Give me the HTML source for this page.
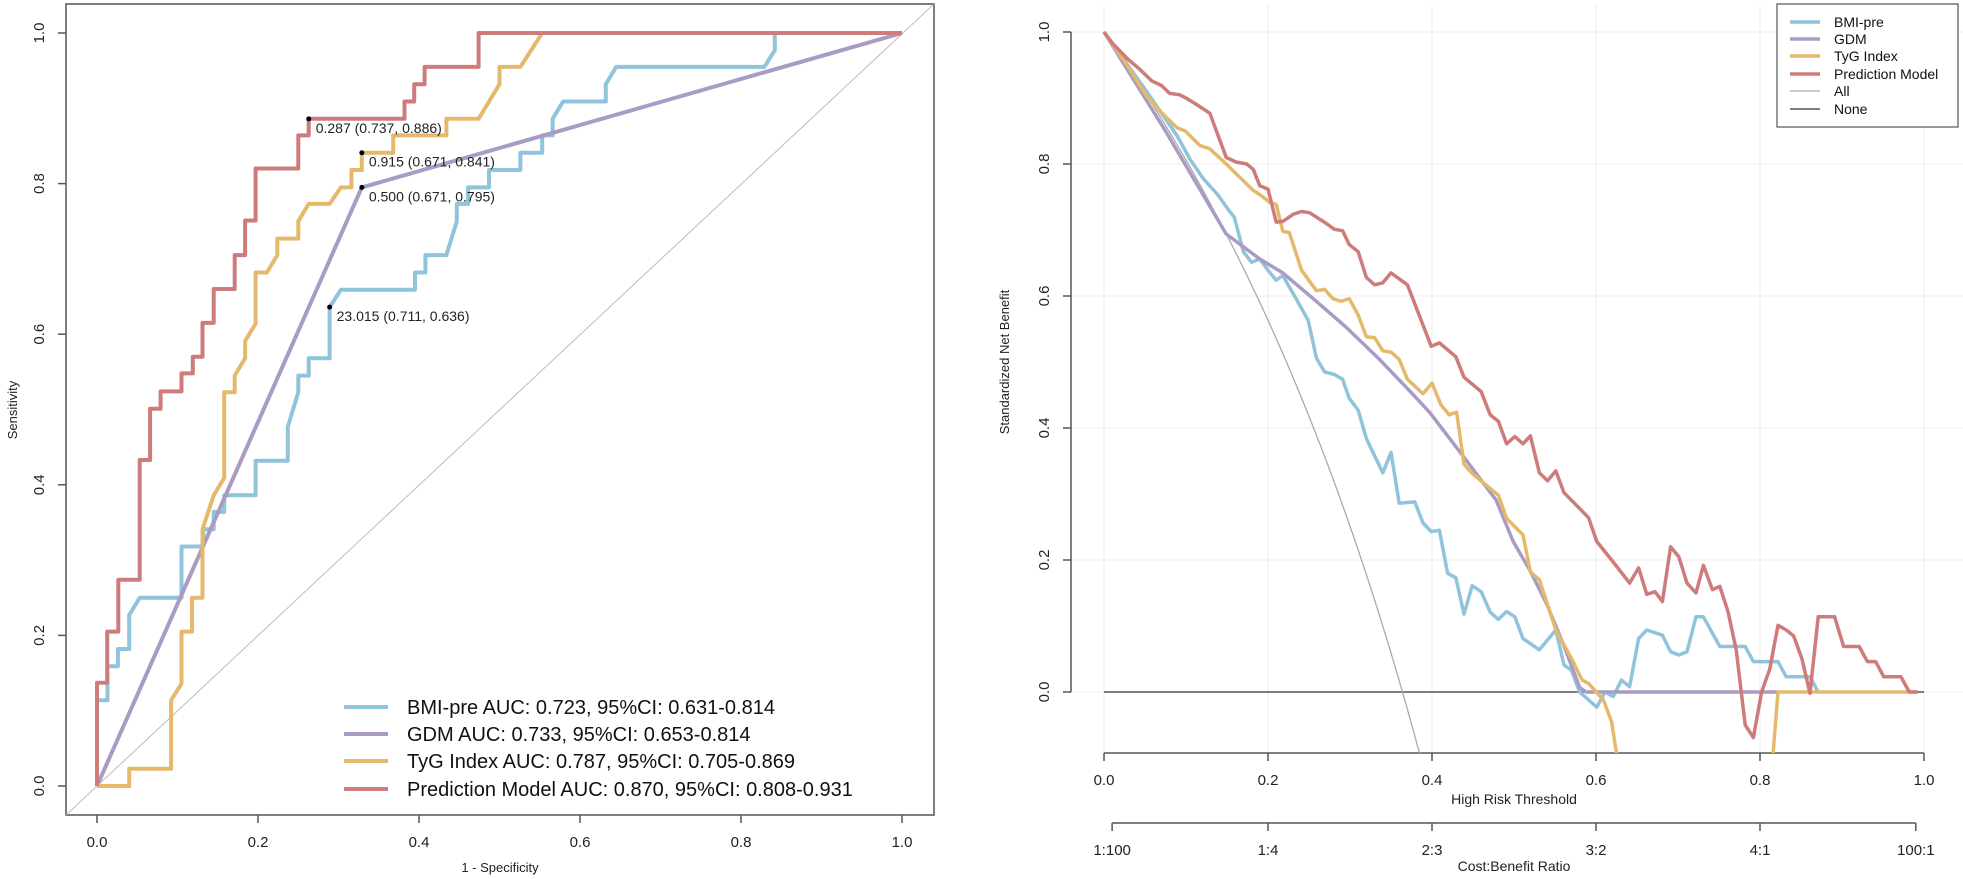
<!DOCTYPE html>
<html><head><meta charset="utf-8"><style>
html,body{margin:0;padding:0;background:#fff;width:1963px;height:879px;overflow:hidden;}
svg{display:block;font-family:"Liberation Sans",Arial,sans-serif;}
</style></head><body>
<svg id="chart" width="1963" height="879" viewBox="0 0 1963 879" xmlns="http://www.w3.org/2000/svg">
<defs>
<clipPath id="roc-clip"><rect x="66" y="4" width="868" height="811"/></clipPath>
<clipPath id="dca-clip"><rect x="1071" y="0" width="892" height="753"/></clipPath>
</defs>
<g id="roc"></g>
<g id="dca"></g>
</svg>
<script>
// ---------- ROC data ----------
const rocNames = ["BMI-pre","GDM","TyG Index","Prediction Model"];
const rocColors = ["#8fc4dc","#a99bc3","#e5b96c","#cd7b7b"];
const rocLegend = ["BMI-pre AUC: 0.723, 95%CI: 0.631-0.814","GDM AUC: 0.733, 95%CI: 0.653-0.814","TyG Index AUC: 0.787, 95%CI: 0.705-0.869","Prediction Model AUC: 0.870, 95%CI: 0.808-0.931"];
const bmiFpr = [0,0,0.013,0.013,0.026,0.026,0.04,0.04,0.053,0.105,0.105,0.132,0.132,0.145,0.145,0.158,0.158,0.197,0.197,0.237,0.237,0.25,0.25,0.263,0.263,0.289,0.289,0.303,0.395,0.395,0.408,0.408,0.434,0.447,0.447,0.461,0.461,0.487,0.487,0.526,0.526,0.553,0.553,0.566,0.566,0.579,0.632,0.632,0.645,0.829,0.842,0.842,1];
const bmiTpr = [0,0.114,0.114,0.159,0.159,0.182,0.182,0.227,0.25,0.25,0.318,0.318,0.341,0.341,0.364,0.364,0.386,0.386,0.432,0.432,0.477,0.523,0.545,0.545,0.568,0.568,0.636,0.659,0.659,0.682,0.682,0.705,0.705,0.75,0.773,0.773,0.795,0.795,0.818,0.818,0.841,0.841,0.864,0.864,0.886,0.909,0.909,0.932,0.955,0.955,0.977,1,1];
const gdmFpr = [0,0.329,1];
const gdmTpr = [0,0.795,1];
const tygFpr = [0,0.04,0.04,0.092,0.092,0.105,0.105,0.118,0.118,0.131,0.131,0.145,0.158,0.158,0.171,0.171,0.184,0.184,0.197,0.197,0.211,0.224,0.224,0.25,0.25,0.263,0.289,0.303,0.316,0.316,0.329,0.329,0.368,0.368,0.434,0.434,0.474,0.5,0.5,0.526,0.553,1];
const tygTpr = [0,0,0.023,0.023,0.114,0.136,0.205,0.205,0.25,0.25,0.341,0.386,0.409,0.523,0.523,0.545,0.568,0.591,0.614,0.682,0.682,0.705,0.727,0.727,0.75,0.773,0.773,0.795,0.795,0.818,0.818,0.841,0.841,0.864,0.864,0.886,0.886,0.932,0.955,0.955,1,1];
const predFpr = [0,0,0.0127,0.0127,0.0265,0.0265,0.053,0.053,0.066,0.066,0.079,0.079,0.105,0.105,0.119,0.119,0.131,0.131,0.145,0.145,0.171,0.171,0.184,0.184,0.197,0.197,0.25,0.25,0.263,0.263,0.382,0.382,0.394,0.394,0.407,0.407,0.474,0.474,1];
const predTpr = [0,0.137,0.137,0.205,0.205,0.274,0.274,0.433,0.433,0.501,0.501,0.524,0.524,0.548,0.548,0.570,0.570,0.615,0.615,0.66,0.66,0.705,0.705,0.751,0.751,0.82,0.82,0.864,0.864,0.886,0.886,0.909,0.909,0.932,0.932,0.955,0.955,1,1];
const cutFpr = [0.289,0.329,0.329,0.263];
const cutTpr = [0.636,0.795,0.841,0.886];
const cutLabels = ["23.015 (0.711, 0.636)","0.500 (0.671, 0.795)","0.915 (0.671, 0.841)","0.287 (0.737, 0.886)"];
const rocTicks = [0,0.2,0.4,0.6,0.8,1.0];
const rocTickLabels = ["0.0","0.2","0.4","0.6","0.8","1.0"];

// ---------- DCA data ----------
const dcaColors = ["#8fc4dc","#a99bc3","#e5b96c","#cd7b7b"];
const dcaLegendNames = ["BMI-pre","GDM","TyG Index","Prediction Model","All","None"];
const bmiT = [0,0.052,0.089,0.105,0.121,0.139,0.151,0.159,0.17,0.18,0.19,0.2,0.21,0.218,0.231,0.249,0.259,0.269,0.281,0.291,0.299,0.31,0.32,0.34,0.35,0.36,0.379,0.389,0.399,0.409,0.419,0.429,0.439,0.449,0.46,0.471,0.481,0.491,0.501,0.511,0.531,0.551,0.561,0.57,0.58,0.601,0.611,0.621,0.631,0.641,0.652,0.662,0.681,0.691,0.701,0.711,0.722,0.731,0.751,0.782,0.792,0.822,0.832,0.861,0.871];
const bmiNB = [1,0.91,0.843,0.807,0.778,0.753,0.732,0.719,0.667,0.651,0.656,0.639,0.624,0.631,0.603,0.563,0.506,0.485,0.481,0.474,0.445,0.427,0.384,0.332,0.363,0.286,0.288,0.256,0.243,0.245,0.18,0.173,0.118,0.161,0.152,0.121,0.11,0.122,0.114,0.081,0.064,0.094,0.041,0.033,0,-0.023,0,-0.007,0.018,0.008,0.081,0.094,0.086,0.061,0.056,0.061,0.114,0.114,0.069,0.069,0.046,0.046,0.023,0.023,0];
const gdmT = [0,0.075,0.149,0.19,0.218,0.255,0.295,0.336,0.376,0.397,0.437,0.478,0.499,0.52,0.54,0.56,0.58,0.588,0.822];
const gdmNB = [1,0.85,0.694,0.656,0.635,0.596,0.553,0.504,0.452,0.424,0.359,0.291,0.228,0.183,0.133,0.073,0.007,0,0];
const tygT = [0,0.028,0.052,0.07,0.089,0.099,0.117,0.129,0.149,0.182,0.192,0.202,0.21,0.218,0.226,0.241,0.259,0.269,0.279,0.289,0.299,0.31,0.32,0.33,0.34,0.35,0.36,0.37,0.389,0.4,0.411,0.421,0.43,0.439,0.449,0.481,0.491,0.511,0.52,0.531,0.551,0.57,0.583,0.591,0.609,0.619,0.625,0.64,0.80,0.816,0.822,0.992];
const tygNB = [1,0.95,0.903,0.878,0.855,0.85,0.828,0.823,0.8,0.76,0.752,0.742,0.739,0.698,0.696,0.639,0.608,0.61,0.596,0.592,0.596,0.571,0.538,0.537,0.517,0.515,0.504,0.474,0.452,0.468,0.435,0.42,0.424,0.345,0.331,0.298,0.263,0.238,0.182,0.17,0.094,0.051,0.018,0.013,-0.012,-0.045,-0.093,-0.15,-0.15,-0.093,0,0];
const predT = [0,0.011,0.028,0.044,0.058,0.07,0.08,0.092,0.1,0.113,0.129,0.149,0.161,0.174,0.182,0.19,0.2,0.21,0.218,0.231,0.241,0.251,0.271,0.281,0.291,0.299,0.31,0.32,0.33,0.34,0.35,0.37,0.399,0.409,0.429,0.439,0.46,0.471,0.481,0.491,0.501,0.511,0.52,0.531,0.541,0.551,0.561,0.58,0.591,0.601,0.621,0.641,0.652,0.662,0.672,0.681,0.691,0.701,0.711,0.722,0.731,0.742,0.751,0.761,0.771,0.782,0.792,0.802,0.812,0.822,0.832,0.841,0.851,0.861,0.871,0.891,0.902,0.921,0.931,0.941,0.951,0.972,0.982,0.992];
const predNB = [1,0.982,0.96,0.943,0.926,0.919,0.907,0.905,0.9,0.89,0.877,0.81,0.803,0.8,0.792,0.767,0.762,0.712,0.713,0.724,0.728,0.726,0.71,0.701,0.699,0.678,0.667,0.628,0.617,0.62,0.635,0.617,0.524,0.529,0.508,0.477,0.455,0.42,0.41,0.376,0.387,0.376,0.388,0.332,0.32,0.335,0.302,0.278,0.264,0.228,0.197,0.165,0.188,0.148,0.152,0.137,0.22,0.205,0.165,0.15,0.192,0.155,0.16,0.122,0.064,-0.05,-0.069,0,0.035,0.101,0.094,0.085,0.051,-0.002,0.114,0.114,0.069,0.069,0.046,0.046,0.023,0.023,0,0];
const allPrevalence = [0.364];
const dcaXTicks = [0,0.2,0.4,0.6,0.8,1.0];
const dcaXTickLabels = ["0.0","0.2","0.4","0.6","0.8","1.0"];
const dcaYTicks = [0,0.2,0.4,0.6,0.8,1.0];
const dcaYTickLabels = ["0.0","0.2","0.4","0.6","0.8","1.0"];
const cbThresh = [0.0099,0.2,0.4,0.6,0.8,0.990];
const cbLabels = ["1:100","1:4","2:3","3:2","4:1","100:1"];

const NS = "http://www.w3.org/2000/svg";
function mk(parent, tag, attrs, text){
  const e = document.createElementNS(NS, tag);
  for (const k in attrs) e.setAttribute(k, attrs[k]);
  if (text !== undefined) e.textContent = text;
  parent.appendChild(e);
  return e;
}

// ===== ROC panel =====
const roc = document.getElementById("roc");
const rx = v => 97 + v*805;
const ry = v => 786 - v*753;
let el;
el = mk(roc,"rect",{x:66,y:4,width:868,height:811,fill:"none",stroke:"#555","stroke-width":1.5});


el = mk(roc,"line",{x1:66,y1:815,x2:934,y2:4,stroke:"#bbb","stroke-width":1,"clip-path":"url(#roc-clip)"});


rocTicks.forEach((t,i)=>{
  el = mk(roc,"line",{x1:rx(t),y1:815,x2:rx(t),y2:823,stroke:"#555","stroke-width":1.5});
  
  
  el = mk(roc,"text",{x:rx(t),y:847,"text-anchor":"middle","font-size":15,fill:"#222"},rocTickLabels[i]);
  
  
  el = mk(roc,"line",{x1:58,y1:ry(t),x2:66,y2:ry(t),stroke:"#555","stroke-width":1.5});
  
  
  el = mk(roc,"text",{x:0,y:0,"text-anchor":"middle","font-size":15,fill:"#222",transform:`translate(44,${ry(t)}) rotate(-90)`},rocTickLabels[i]);
  
  
});
el = mk(roc,"text",{x:500,y:872,"text-anchor":"middle","font-size":13,fill:"#222"},"1 - Specificity");


el = mk(roc,"text",{x:0,y:0,"text-anchor":"middle","font-size":13,fill:"#222",transform:"translate(17,410) rotate(-90)"},"Sensitivity");



const rocSeries = [[bmiFpr,bmiTpr],[gdmFpr,gdmTpr],[tygFpr,tygTpr],[predFpr,predTpr]];
const rocSeriesNames = ['roc-curve-bmi-pre','roc-curve-gdm','roc-curve-tyg-index','roc-curve-prediction-model'];
rocSeries.forEach((s,i)=>{
  const pts = s[0].map((x,j)=>rx(x).toFixed(1)+","+ry(s[1][j]).toFixed(1)).join(" ");
  el = mk(roc,"polyline",{points:pts,fill:"none",stroke:rocColors[i],"stroke-width":4,"stroke-linejoin":"round","clip-path":"url(#roc-clip)"});
  
  
});
cutFpr.forEach((x,i)=>{
  el = mk(roc,"circle",{cx:rx(x),cy:ry(cutTpr[i]),r:2.5,fill:"#000"});
  
  
  el = mk(roc,"text",{x:rx(x)+7,y:ry(cutTpr[i])+14,"font-size":14,fill:"#222"},cutLabels[i]);
  
  
});
const legY = [707,734,761,789];
rocLegend.forEach((t,i)=>{
  el = mk(roc,"line",{x1:344,y1:legY[i],x2:388,y2:legY[i],stroke:rocColors[i],"stroke-width":4});
  
  
  el = mk(roc,"text",{x:407,y:legY[i]+7,"font-size":20,fill:"#111"},t);
  
  
});

// ===== DCA panel =====
const dca = document.getElementById("dca");
const dx = t => 1104 + t*820;
const dy = v => 692 - v*660;
dcaXTicks.forEach(t=>{
  el = mk(dca,"line",{x1:dx(t),y1:5,x2:dx(t),y2:753,stroke:"#ececec","stroke-width":1});
  
  
});
dcaYTicks.forEach(v=>{
  el = mk(dca,"line",{x1:1071,y1:dy(v),x2:1963,y2:dy(v),stroke:"#ececec","stroke-width":1});
  
  
});
el = mk(dca,"line",{x1:1071,y1:dy(1),x2:1071,y2:dy(0),stroke:"#555","stroke-width":1.5});


dcaYTicks.forEach((v,i)=>{
  el = mk(dca,"line",{x1:1063,y1:dy(v),x2:1071,y2:dy(v),stroke:"#555","stroke-width":1.5});
  
  
  el = mk(dca,"text",{x:0,y:0,"text-anchor":"middle","font-size":15,fill:"#222",transform:`translate(1049,${dy(v)}) rotate(-90)`},dcaYTickLabels[i]);
  
  
});
el = mk(dca,"text",{x:0,y:0,"text-anchor":"middle","font-size":13,fill:"#222",transform:"translate(1009,362) rotate(-90)"},"Standardized Net Benefit");


el = mk(dca,"line",{x1:dx(0),y1:753,x2:dx(1),y2:753,stroke:"#555","stroke-width":1.5});


dcaXTicks.forEach((t,i)=>{
  el = mk(dca,"line",{x1:dx(t),y1:753,x2:dx(t),y2:761,stroke:"#555","stroke-width":1.5});
  
  
  el = mk(dca,"text",{x:dx(t),y:785,"text-anchor":"middle","font-size":15,fill:"#222"},dcaXTickLabels[i]);
  
  
});
el = mk(dca,"text",{x:dx(0.5),y:804,"text-anchor":"middle","font-size":14,fill:"#222"},"High Risk Threshold");


el = mk(dca,"line",{x1:dx(cbThresh[0]),y1:823,x2:dx(cbThresh[5]),y2:823,stroke:"#555","stroke-width":1.5});


cbThresh.forEach((t,i)=>{
  el = mk(dca,"line",{x1:dx(t),y1:823,x2:dx(t),y2:831,stroke:"#555","stroke-width":1.5});
  
  
  el = mk(dca,"text",{x:dx(t),y:855,"text-anchor":"middle","font-size":15,fill:"#222"},cbLabels[i]);
  
  
});
el = mk(dca,"text",{x:dx(0.5),y:871,"text-anchor":"middle","font-size":14,fill:"#222"},"Cost:Benefit Ratio");



el = mk(dca,"line",{x1:dx(0),y1:dy(0),x2:dx(1),y2:dy(0),stroke:"#555","stroke-width":1.5});


const p = allPrevalence[0];
const allPts = [];
for (let k=0;k<=390;k++){ const t = k/1000; allPts.push(dx(t).toFixed(1)+","+dy(1 - t/(1-t)*(1-p)/p).toFixed(1)); }
el = mk(dca,"polyline",{points:allPts.join(" "),fill:"none",stroke:"#aaa","stroke-width":1.3,"clip-path":"url(#dca-clip)"});



const dcaSeries = [[bmiT,bmiNB],[gdmT,gdmNB],[tygT,tygNB],[predT,predNB]];
const dcaSeriesNames = ['dca-curve-bmi-pre','dca-curve-gdm','dca-curve-tyg-index','dca-curve-prediction-model'];
dcaSeries.forEach((s,i)=>{
  const pts = s[0].map((t,j)=>dx(t).toFixed(1)+","+dy(s[1][j]).toFixed(1)).join(" ");
  el = mk(dca,"polyline",{points:pts,fill:"none",stroke:dcaColors[i],"stroke-width":3.5,"stroke-linejoin":"round","clip-path":"url(#dca-clip)"});
  
  
});

el = mk(dca,"rect",{x:1777,y:4,width:181,height:123,fill:"#fff",stroke:"#555","stroke-width":1.2});


const dLegY = [22,39,56,74,91,109];
const dLegCol = [dcaColors[0],dcaColors[1],dcaColors[2],dcaColors[3],"#aaa","#555"];
const dLegW = [3.5,3.5,3.5,3.5,1.2,1.5];
dcaLegendNames.forEach((n,i)=>{
  el = mk(dca,"line",{x1:1790,y1:dLegY[i],x2:1820,y2:dLegY[i],stroke:dLegCol[i],"stroke-width":dLegW[i]});
  
  
  el = mk(dca,"text",{x:1834,y:dLegY[i]+5,"font-size":14,fill:"#111"},n);
  
  
});
</script>
</body></html>
